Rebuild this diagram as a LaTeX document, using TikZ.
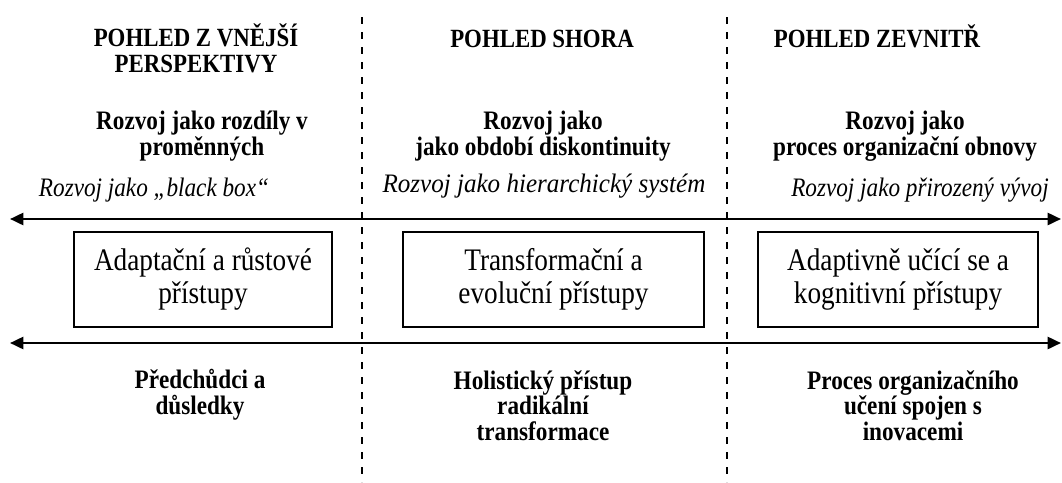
\documentclass[tikz,border=0pt]{standalone}
\usepackage{fontspec}
\setmainfont[FakeStretch=0.87]{Liberation Serif}
\newfontfamily\widerserif[FakeStretch=0.94]{Liberation Serif}
\usetikzlibrary{arrows.meta}
\begin{document}
\begin{tikzpicture}[x=0.75pt,y=-0.75pt,
  heading/.style={font=\fontsize{19.7}{19.5}\selectfont\bfseries, align=center, anchor=base, inner sep=0pt},
  claim/.style={font=\fontsize{20}{19}\selectfont\bfseries, align=center, anchor=base, inner sep=0pt},
  note/.style={font=\fontsize{20}{20}\selectfont\itshape, anchor=base, inner sep=0pt},
  approach/.style={draw, line width=1.1pt, minimum height=95*0.75pt, inner sep=0pt,
    font=\fontsize{23.5}{24.75}\selectfont, align=center},
  divider/.style={line width=1.5pt, dash pattern=on 5.25pt off 6pt},
  axis/.style={line width=1.9pt, {Triangle[length=10pt,width=9pt]}-{Triangle[length=10pt,width=9pt]}}
]
\useasboundingbox (0,0) rectangle (1062,482);

% column dividers
\coordinate (d1t) at (362,17);  \coordinate (d1b) at (362,482);
\coordinate (d2t) at (727,17);  \coordinate (d2b) at (727,482);
\draw[divider] (d1t) -- (d1b);
\draw[divider] (d2t) -- (d2b);

% headings (anchor at the baseline of the last line)
\node[heading] (h1) at (196,72) {POHLED Z VNĚJŠÍ\\PERSPEKTIVY};
\node[heading] (h2) at (542,47) {POHLED SHORA};
\node[heading] (h3) at (877,47) {POHLED ZEVNITŘ};

% development as ...
\node[claim] (c1) at (202,155) {Rozvoj jako rozdíly v\\proměnných};
\node[claim] (c2) at (543,155) {Rozvoj jako\\jako období diskontinuity};
\node[claim] (c3) at (905,155) {Rozvoj jako\\proces organizační obnovy};

\node[note] (n1) at (154,196) {Rozvoj jako „black box“};
\node[note, font=\widerserif\fontsize{20}{20}\selectfont\itshape] (n2) at (544,192) {Rozvoj jako hierarchický systém};
\node[note] (n3) at (920,196) {Rozvoj jako přirozený vývoj};

% axes
\coordinate (a1l) at (10,219);  \coordinate (a1r) at (1061,219);
\coordinate (a2l) at (10,343);  \coordinate (a2r) at (1061,343);
\draw[axis] (a1l) -- (a1r);
\draw[axis] (a2l) -- (a2r);

% approaches
\node[approach, minimum width=258*0.75pt] (b1) at (203,279.5) {Adaptační a růstové\\přístupy};
\node[approach, minimum width=301*0.75pt] (b2) at (553.5,279.5) {Transformační a\\evoluční přístupy};
\node[approach, minimum width=280*0.75pt] (b3) at (898,279.5) {Adaptivně učící se a\\kognitivní přístupy};

% consequences
\node[claim] (e1) at (200,414) {Předchůdci a\\důsledky};
\node[claim] (e2) at (543,440) {Holistický přístup\\radikální\\transformace};
\node[claim] (e3) at (913,440) {Proces organizačního\\učení spojen s\\inovacemi};
\end{tikzpicture}
\end{document}
